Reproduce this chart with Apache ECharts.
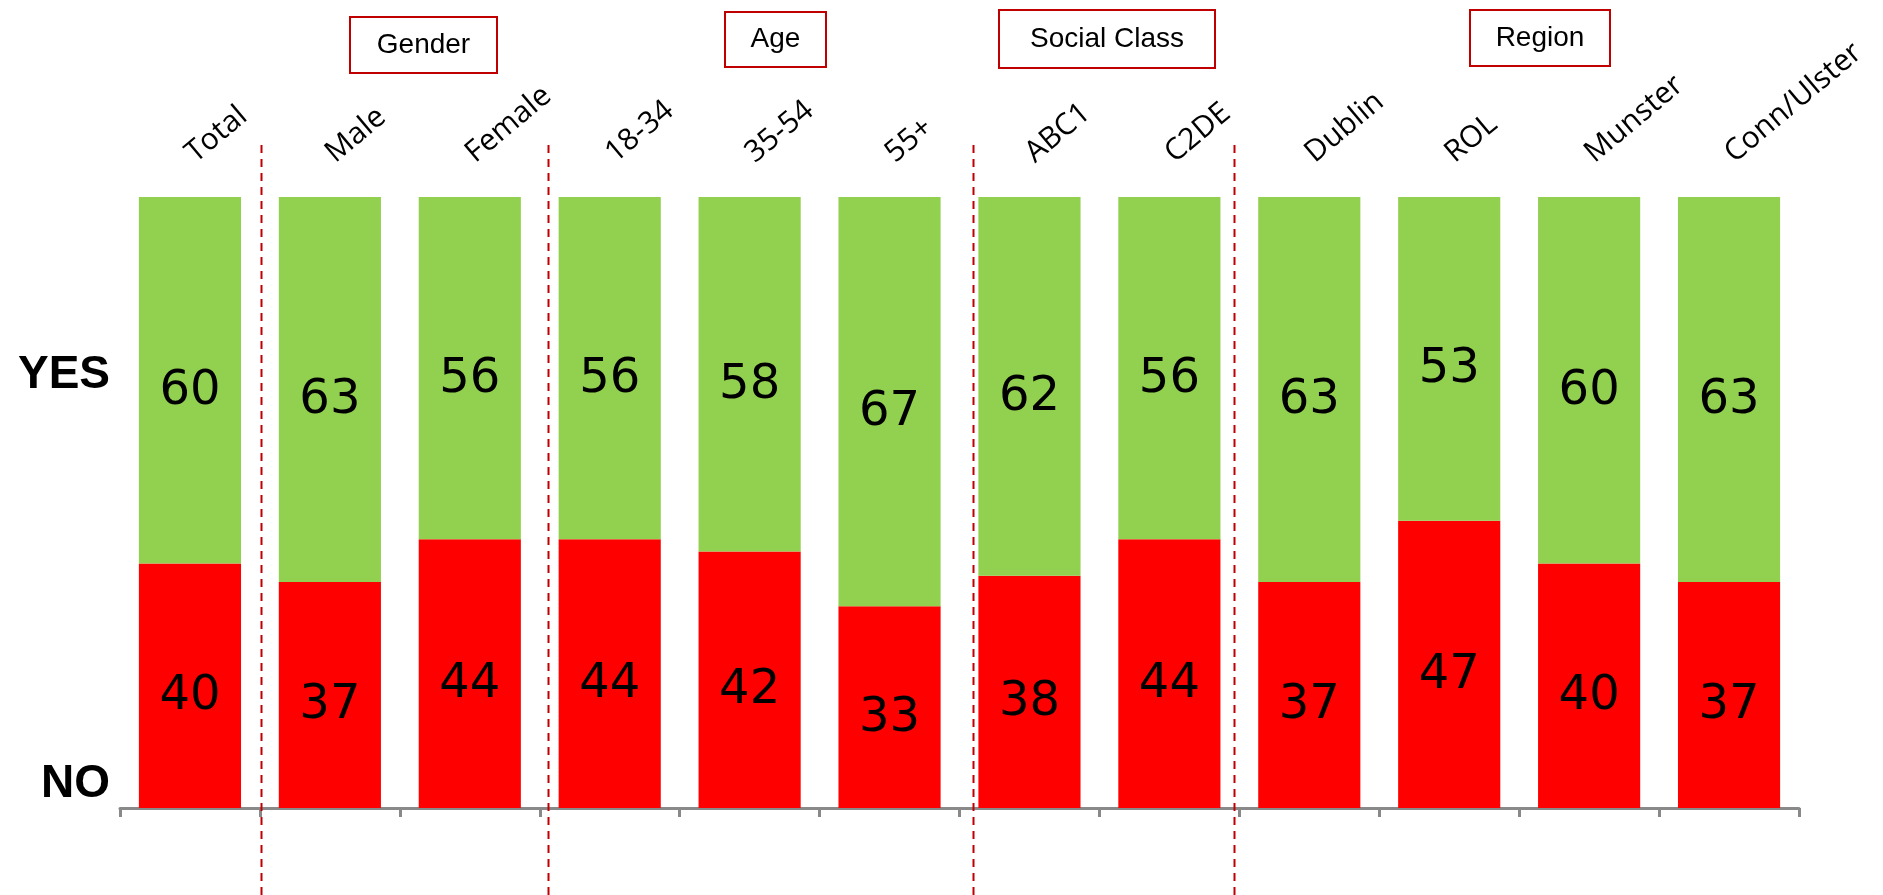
<!DOCTYPE html>
<html>
<head>
<meta charset="utf-8">
<script src="https://cdn.jsdelivr.net/npm/echarts@6/dist/echarts.min.js"></script>
<style>
  html, body { margin: 0; padding: 0; background: #fff; }
  #chart { width: 1883px; height: 895px; }
</style>
</head>
<body>
<div id="chart"></div>
<script>
// Survey breakdown: share answering YES / NO by demographic group
const categories = ['Total', 'Male', 'Female', '18-34', '35-54', '55+', 'ABC1', 'C2DE', 'Dublin', 'ROL', 'Munster', 'Conn/Ulster'];
const yesValues = [60, 63, 56, 56, 58, 67, 62, 56, 63, 53, 60, 63];
const noValues = [40, 37, 44, 44, 42, 33, 38, 44, 37, 47, 40, 37];
const groupTitles = ['Gender', 'Age', 'Social Class', 'Region'];
const answerLabels = ['YES', 'NO'];

// Layout
const GRID = { left: 120, right: 84, top: 197, bottom: 87 };
const groupBoxes = [
  { x: 350, y: 17, w: 147, h: 56 },
  { x: 725, y: 12, w: 101, h: 55 },
  { x: 999, y: 10, w: 216, h: 58 },
  { x: 1470, y: 10, w: 140, h: 56 }
];
// Divider positions in category units from the left edge of the plot
const dividerSlots = [1.01, 3.06, 6.10, 7.96];
const answerLabelY = [375, 784];

const chart = echarts.init(document.getElementById('chart'), null, { renderer: 'canvas' });

const valueLabel = {
  show: true,
  position: 'inside',
  offset: [0, 11],
  fontFamily: 'DejaVu Sans',
  fontSize: 48,
  color: '#000'
};

const W = 1883;
const plotW = W - GRID.left - GRID.right;
const slotW = plotW / categories.length;

const graphics = [];
groupBoxes.forEach((b, i) => {
  graphics.push({
    type: 'rect',
    shape: { x: b.x, y: b.y, width: b.w, height: b.h },
    style: { fill: '#fff', stroke: '#C00000', lineWidth: 2 },
    z: 10
  });
  graphics.push({
    type: 'text',
    x: b.x + b.w / 2,
    y: b.y + b.h / 2,
    style: {
      text: groupTitles[i],
      fontFamily: 'Liberation Sans',
      fontSize: 28,
      fill: '#000',
      align: 'center',
      verticalAlign: 'middle'
    },
    z: 11
  });
});
dividerSlots.forEach(s => {
  const x = Math.round(GRID.left + s * slotW) + 0.5;
  graphics.push({
    type: 'line',
    shape: { x1: x, y1: 145, x2: x, y2: 895 },
    style: { stroke: '#C00000', lineWidth: 2, lineDash: [8, 6] },
    z: 20
  });
});
answerLabels.forEach((t, i) => {
  graphics.push({
    type: 'text',
    x: 110,
    y: answerLabelY[i],
    style: {
      text: t,
      fontFamily: 'Liberation Sans',
      fontWeight: 'bold',
      fontSize: 46,
      fill: '#000',
      align: 'right',
      verticalAlign: 'middle'
    }
  });
});

chart.setOption({
  animation: false,
  backgroundColor: '#fff',
  grid: { left: GRID.left, right: GRID.right, top: GRID.top, bottom: GRID.bottom, containLabel: false },
  xAxis: [
    {
      type: 'category',
      data: categories,
      position: 'bottom',
      axisLine: { show: true, lineStyle: { color: '#898989', width: 3 } },
      axisTick: { show: true, length: 9, lineStyle: { color: '#898989', width: 3 } },
      axisLabel: { show: false },
      splitLine: { show: false }
    },
    {
      type: 'category',
      data: categories,
      position: 'top',
      axisLine: { show: false },
      axisTick: { show: false },
      splitLine: { show: false },
      axisLabel: {
        interval: 0,
        rotate: -40,
        margin: 40,
        fontFamily: 'Open Sans',
        fontSize: 30,
        color: '#000'
      }
    }
  ],
  yAxis: {
    type: 'value',
    min: 0,
    max: 100,
    show: false
  },
  series: [
    {
      name: 'NO',
      type: 'bar',
      stack: 'answers',
      xAxisIndex: 0,
      data: noValues,
      barCategoryGap: '27%',
      itemStyle: { color: '#FF0000' },
      label: valueLabel
    },
    {
      name: 'YES',
      type: 'bar',
      stack: 'answers',
      xAxisIndex: 0,
      data: yesValues,
      barCategoryGap: '27%',
      itemStyle: { color: '#92D050' },
      label: valueLabel
    }
  ],
  graphic: graphics
});
</script>
</body>
</html>
